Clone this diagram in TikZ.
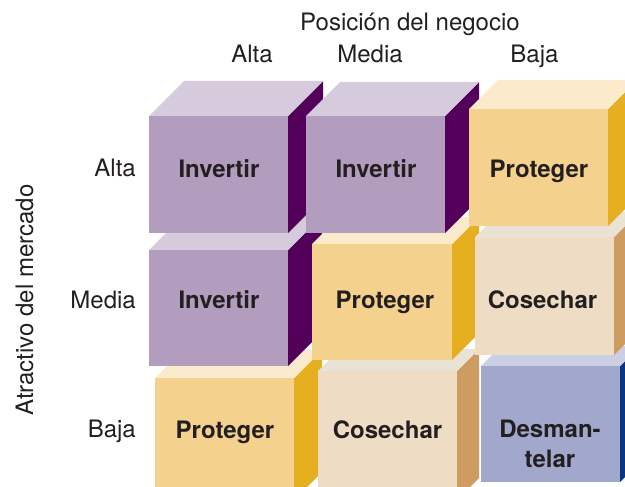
\documentclass[tikz,border=0pt]{standalone}
\usepackage{fontspec}
\setmainfont{TeX Gyre Heros}
\definecolor{txt}{HTML}{231F20}
\definecolor{pF}{HTML}{B39DBE}
\definecolor{pT}{HTML}{D6CBDD}
\definecolor{pS}{HTML}{52005A}
\definecolor{gF}{HTML}{F5D18E}
\definecolor{gT}{HTML}{FCEACC}
\definecolor{gS}{HTML}{E6AF20}
\definecolor{bF}{HTML}{EEDCC5}
\definecolor{bT}{HTML}{EAE2D5}
\definecolor{bS}{HTML}{CE9B60}
\definecolor{dF}{HTML}{A2A8CC}
\definecolor{dT}{HTML}{CCCFE3}
\definecolor{dS}{HTML}{0B3780}
% x0 y0 x1 y1 depth front top side
\newcommand\drawcube[8]{%
  \fill[#8] (#3,#2) -- (#3+#5,#2-#5) -- (#3+#5,#4-#5) -- (#3,#4) -- cycle;
  \fill[#7] (#1,#2) -- (#3,#2) -- (#3+#5,#2-#5) -- (#1+#5,#2-#5) -- cycle;
  \fill[#6] (#1,#2) rectangle (#3,#4);
}
\begin{document}
\begin{tikzpicture}[x=1pt,y=-1pt,
  lbl/.style={font=\fontsize{24}{28}\selectfont, text=txt, inner sep=0pt},
  cubelbl/.style={font=\fontsize{24}{28}\selectfont\bfseries, text=txt, inner sep=0pt, anchor=base}]
\useasboundingbox (0,0) rectangle (625,487);
\begin{scope}
\clip (0,0) rectangle (625,487);
% bottom row
\drawcube{155}{378}{294}{500}{28}{gF}{gT}{gS}
\drawcube{318}{371}{457}{500}{22}{bF}{bT}{bS}
\drawcube{481}{366}{620}{482}{20}{dF}{dT}{dS}
% middle row
\drawcube{149}{250}{288}{366}{34}{pF}{pT}{pS}
\drawcube{312}{244}{452}{360}{27}{gF}{gT}{gS}
\drawcube{475}{237}{614}{355}{25}{bF}{bT}{bS}
% top row
\drawcube{149}{116}{288}{233}{35}{pF}{pT}{pS}
\drawcube{306}{116}{445}{233}{34}{pF}{pT}{pS}
\drawcube{469}{109}{608}{226}{29}{gF}{gT}{gS}
\end{scope}
% cube labels
\node[cubelbl] (c1) at (219,178) {Invertir};
\node[cubelbl] (c2) at (376,178) {Invertir};
\node[cubelbl] (c3) at (539,178) {Proteger};
\node[cubelbl] (c4) at (219,308) {Invertir};
\node[cubelbl] (c5) at (385,308) {Proteger};
\node[cubelbl] (c6) at (542.5,308) {Cosechar};
\node[cubelbl] (c7) at (225,438) {Proteger};
\node[cubelbl] (c8) at (387.5,438) {Cosechar};
\node[cubelbl] (c9a) at (550,437) {Desman-};
\node[cubelbl] (c9b) at (550,467) {telar};
% axis labels
\node[lbl, anchor=base] (xt) at (410,31) {Posición del negocio};
\node[lbl, anchor=base] (x1) at (252,63) {Alta};
\node[lbl, anchor=base] (x2) at (370,63) {Media};
\node[lbl, anchor=base] (x3) at (534.5,63) {Baja};
\node[lbl, anchor=base east] (y1) at (136,177) {Alta};
\node[lbl, anchor=base east] (y2) at (136,308) {Media};
\node[lbl, anchor=base east] (y3) at (136,437) {Baja};
\node[lbl, anchor=base, rotate=90] (yt) at (33,300) {Atractivo del mercado};
\end{tikzpicture}
\end{document}
